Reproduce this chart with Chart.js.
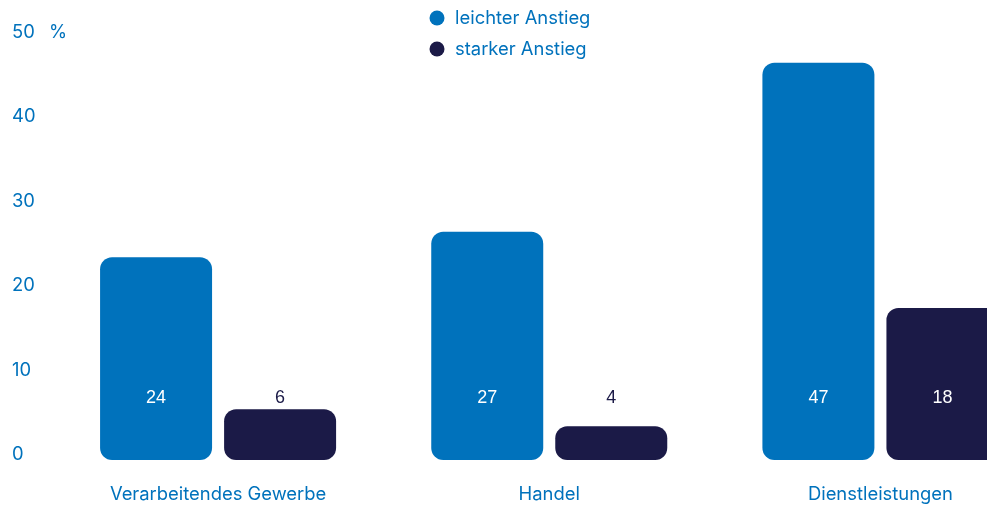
<!DOCTYPE html>
<html lang="de">
<head>
<meta charset="utf-8">
<script src="https://cdn.jsdelivr.net/npm/chart.js@4"></script>
<style>
  html, body { margin: 0; padding: 0; background: #fff; overflow: hidden; }
  #wrap { position: relative; width: 1046px; height: 506px; }
</style>
</head>
<body>
<div id="wrap"><canvas id="chart" width="1046" height="506"></canvas></div>
<script>
const categories = ['Verarbeitendes Gewerbe', 'Handel', 'Dienstleistungen'];
const seriesNames = ['leichter Anstieg', 'starker Anstieg'];
const leichterAnstieg = [24, 27, 47];
const starkerAnstieg = [6, 4, 18];
const yTicks = [0, 10, 20, 30, 40, 50];
const yUnit = '%';

const BLUE = '#0072bc';
const NAVY = '#1b1a47';
const AXIS_FONT = 'Inter, "Noto Sans", sans-serif';

// Legend drawn over the plot, stacked vertically with round markers,
// plus the unit next to the top y tick
const overlayLegend = {
  id: 'overlayLegend',
  afterDraw(chart) {
    const ctx = chart.ctx;
    const yScale = chart.scales.y;
    ctx.save();
    ctx.font = '18.4px ' + AXIS_FONT;
    ctx.textBaseline = 'middle';
    ctx.textAlign = 'left';
    chart.data.datasets.forEach((ds, i) => {
      const y = 18 + i * 31;
      ctx.fillStyle = ds.backgroundColor;
      ctx.beginPath();
      ctx.arc(437, y, 7.5, 0, Math.PI * 2);
      ctx.fill();
      ctx.fillStyle = BLUE;
      ctx.fillText(ds.label, 455, y);
    });
    ctx.fillText(yUnit, 49, yScale.getPixelForValue(yTicks[yTicks.length - 1]) - 5);
    ctx.restore();
  }
};

// Value labels at a common height; white on tall bars, navy above short ones
const valueLabels = {
  id: 'valueLabels',
  afterDatasetsDraw(chart) {
    const ctx = chart.ctx;
    const yScale = chart.scales.y;
    const labelY = yScale.getPixelForValue(0) - 62;
    ctx.save();
    ctx.font = '18px "Liberation Sans", Arial, sans-serif';
    ctx.textAlign = 'center';
    ctx.textBaseline = 'middle';
    chart.data.datasets.forEach((ds, i) => {
      chart.getDatasetMeta(i).data.forEach((bar, j) => {
        ctx.fillStyle = bar.y < labelY - 14 ? '#fff' : NAVY;
        ctx.fillText(ds.data[j], bar.x, labelY);
      });
    });
    ctx.restore();
  }
};

new Chart(document.getElementById('chart'), {
  type: 'bar',
  data: {
    labels: categories,
    datasets: [
      {
        label: seriesNames[0],
        data: leichterAnstieg,
        backgroundColor: BLUE
      },
      {
        label: seriesNames[1],
        data: starkerAnstieg,
        backgroundColor: NAVY
      }
    ]
  },
  options: {
    responsive: false,
    animation: false,
    layout: {
      padding: { left: 12, top: 37.5, right: 0, bottom: 2 }
    },
    datasets: {
      bar: {
        categoryPercentage: 0.749,
        barPercentage: 0.903,
        borderRadius: 12,
        borderSkipped: false
      }
    },
    scales: {
      x: {
        grid: { display: false, drawTicks: false },
        border: { display: false },
        afterFit: (scale) => {
          scale.height = 44;
        },
        ticks: {
          color: BLUE,
          padding: 23,
          font: { family: AXIS_FONT, size: 18.4 }
        }
      },
      y: {
        min: 0,
        max: 50,
        grid: { display: false, drawTicks: false },
        border: { display: false },
        afterBuildTicks: (scale) => {
          scale.ticks = yTicks.map((v) => ({ value: v }));
        },
        afterFit: (scale) => {
          scale.width = 40.5;
        },
        ticks: {
          color: BLUE,
          crossAlign: 'far',
          labelOffset: -5.5,
          font: { family: AXIS_FONT, size: 18.4 }
        }
      }
    },
    plugins: {
      legend: { display: false },
      tooltip: { enabled: false }
    }
  },
  plugins: [overlayLegend, valueLabels]
});
</script>
</body>
</html>
